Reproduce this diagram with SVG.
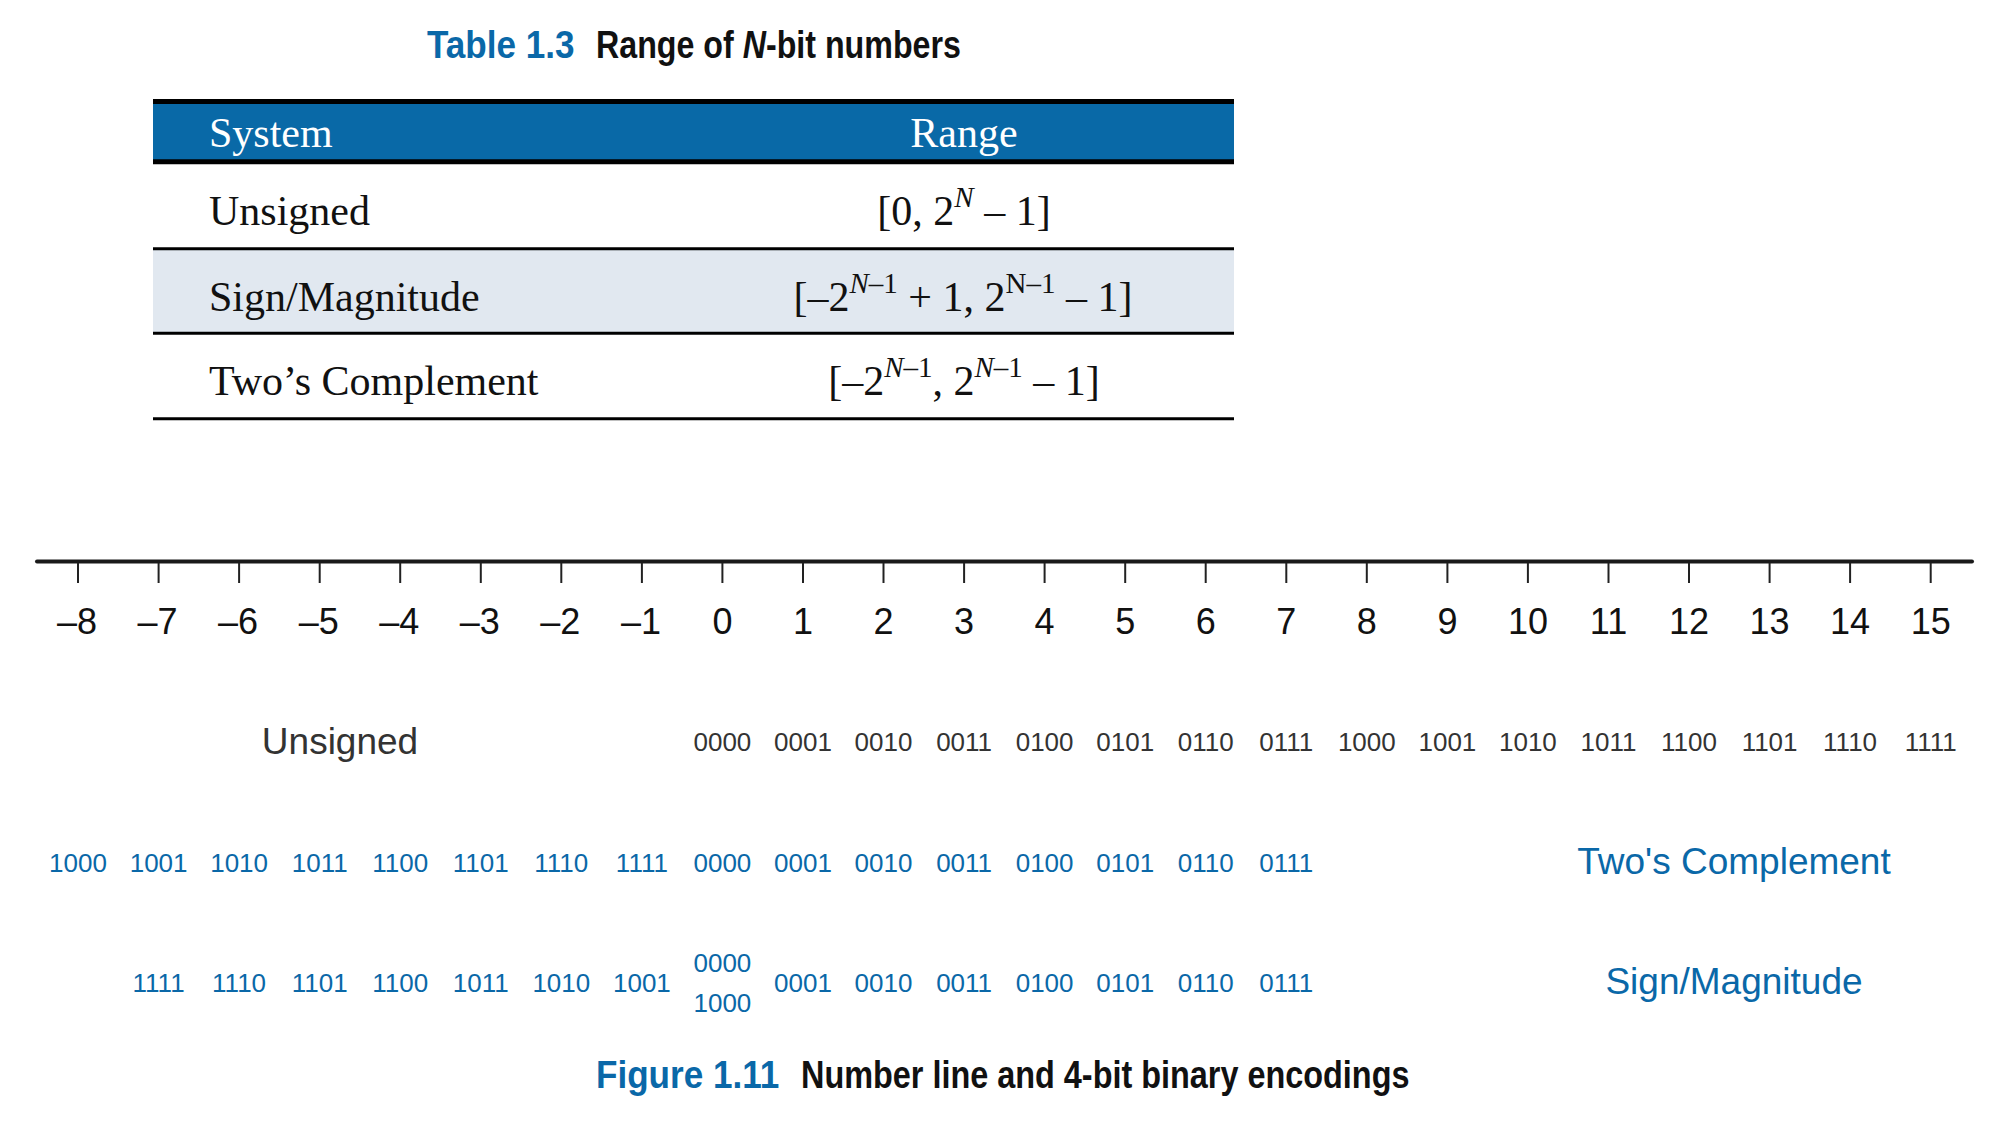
<svg xmlns="http://www.w3.org/2000/svg" width="2010" height="1126" viewBox="0 0 2010 1126">
<style>
.cap{font-family:"Liberation Sans",Arial,sans-serif;font-weight:bold;font-size:39px;fill:#111}
.blue{fill:#0A68A8}
.ser{font-family:"Liberation Serif","Times New Roman",serif;font-size:42px;fill:#111}
.sup{font-size:29px}
.hdr{fill:#fff}
.num{font-family:"Liberation Sans",Arial,sans-serif;font-size:36px;fill:#111;text-anchor:middle}
.code{font-family:"Liberation Sans",Arial,sans-serif;font-size:26px;text-anchor:middle}
.ug{fill:#333}
.lbl{font-family:"Liberation Sans",Arial,sans-serif;font-size:37px;text-anchor:middle}
.tick{stroke:#222;stroke-width:2}
.rule{stroke:#000;stroke-width:3}
.thick{stroke:#000;stroke-width:5}
</style>
<rect width="2010" height="1126" fill="#fff"/>

<g id="table-title">
<text class="cap blue" transform="translate(427,58) scale(0.9,1)">Table 1.3</text>
<text class="cap" transform="translate(596,58) scale(0.826,1)">Range of <tspan font-style="italic">N</tspan>-bit numbers</text>
</g>

<g id="table">
<rect x="153" y="101" width="1081" height="61" fill="#0969A7"/>
<line class="thick" x1="153" y1="101.5" x2="1234" y2="101.5"/>
<line class="thick" x1="153" y1="161.8" x2="1234" y2="161.8"/>
<text class="ser hdr" x="209" y="147">System</text>
<text class="ser hdr" x="964" y="147" text-anchor="middle">Range</text>
<rect x="153" y="250" width="1081" height="82" fill="#E1E8F0"/>
<line class="rule" x1="153" y1="248.7" x2="1234" y2="248.7"/>
<line class="rule" x1="153" y1="333.3" x2="1234" y2="333.3"/>
<line class="rule" x1="153" y1="418.7" x2="1234" y2="418.7"/>
<text class="ser" x="209" y="225">Unsigned</text>
<text class="ser" x="964" y="225" text-anchor="middle">[0, 2<tspan class="sup" font-style="italic" dy="-18">N</tspan><tspan dy="18"> – 1]</tspan></text>
<text class="ser" x="209" y="311">Sign/Magnitude</text>
<text class="ser" x="963" y="311" text-anchor="middle">[–2<tspan class="sup" dy="-18"><tspan font-style="italic">N</tspan>–1</tspan><tspan dy="18"> + 1, 2</tspan><tspan class="sup" dy="-18">N–1</tspan><tspan dy="18"> – 1]</tspan></text>
<text class="ser" x="209" y="395">Two’s Complement</text>
<text class="ser" x="964" y="395" text-anchor="middle">[–2<tspan class="sup" dy="-18"><tspan font-style="italic">N</tspan>–1</tspan><tspan dy="18">, 2</tspan><tspan class="sup" dy="-18"><tspan font-style="italic">N</tspan>–1</tspan><tspan dy="18"> – 1]</tspan></text>
</g>

<g id="number-line">
<line x1="37" y1="561.5" x2="1972" y2="561.5" stroke="#1a1a1a" stroke-width="4" stroke-linecap="round"/>
<g id="ticks">
<line class="tick" x1="78" y1="563" x2="78" y2="583"/>
<line class="tick" x1="158.6" y1="563" x2="158.6" y2="583"/>
<line class="tick" x1="239.1" y1="563" x2="239.1" y2="583"/>
<line class="tick" x1="319.7" y1="563" x2="319.7" y2="583"/>
<line class="tick" x1="400.2" y1="563" x2="400.2" y2="583"/>
<line class="tick" x1="480.8" y1="563" x2="480.8" y2="583"/>
<line class="tick" x1="561.3" y1="563" x2="561.3" y2="583"/>
<line class="tick" x1="641.9" y1="563" x2="641.9" y2="583"/>
<line class="tick" x1="722.4" y1="563" x2="722.4" y2="583"/>
<line class="tick" x1="803" y1="563" x2="803" y2="583"/>
<line class="tick" x1="883.5" y1="563" x2="883.5" y2="583"/>
<line class="tick" x1="964.1" y1="563" x2="964.1" y2="583"/>
<line class="tick" x1="1044.6" y1="563" x2="1044.6" y2="583"/>
<line class="tick" x1="1125.2" y1="563" x2="1125.2" y2="583"/>
<line class="tick" x1="1205.7" y1="563" x2="1205.7" y2="583"/>
<line class="tick" x1="1286.3" y1="563" x2="1286.3" y2="583"/>
<line class="tick" x1="1366.8" y1="563" x2="1366.8" y2="583"/>
<line class="tick" x1="1447.4" y1="563" x2="1447.4" y2="583"/>
<line class="tick" x1="1527.9" y1="563" x2="1527.9" y2="583"/>
<line class="tick" x1="1608.5" y1="563" x2="1608.5" y2="583"/>
<line class="tick" x1="1689" y1="563" x2="1689" y2="583"/>
<line class="tick" x1="1769.6" y1="563" x2="1769.6" y2="583"/>
<line class="tick" x1="1850.1" y1="563" x2="1850.1" y2="583"/>
<line class="tick" x1="1930.7" y1="563" x2="1930.7" y2="583"/>
</g>
<g id="numbers">
<text class="num" x="77" y="634">–8</text>
<text class="num" x="157.6" y="634">–7</text>
<text class="num" x="238.1" y="634">–6</text>
<text class="num" x="318.7" y="634">–5</text>
<text class="num" x="399.2" y="634">–4</text>
<text class="num" x="479.8" y="634">–3</text>
<text class="num" x="560.3" y="634">–2</text>
<text class="num" x="640.9" y="634">–1</text>
<text class="num" x="722.4" y="634">0</text>
<text class="num" x="803" y="634">1</text>
<text class="num" x="883.5" y="634">2</text>
<text class="num" x="964.1" y="634">3</text>
<text class="num" x="1044.6" y="634">4</text>
<text class="num" x="1125.2" y="634">5</text>
<text class="num" x="1205.7" y="634">6</text>
<text class="num" x="1286.3" y="634">7</text>
<text class="num" x="1366.8" y="634">8</text>
<text class="num" x="1447.4" y="634">9</text>
<text class="num" x="1527.9" y="634">10</text>
<text class="num" x="1608.5" y="634">11</text>
<text class="num" x="1689" y="634">12</text>
<text class="num" x="1769.6" y="634">13</text>
<text class="num" x="1850.1" y="634">14</text>
<text class="num" x="1930.7" y="634">15</text>
</g>
</g>

<g id="unsigned-row" class="ug">
<text class="lbl ug" x="340" y="754">Unsigned</text>
<text class="code" x="722.4" y="751">0000</text>
<text class="code" x="803" y="751">0001</text>
<text class="code" x="883.5" y="751">0010</text>
<text class="code" x="964.1" y="751">0011</text>
<text class="code" x="1044.6" y="751">0100</text>
<text class="code" x="1125.2" y="751">0101</text>
<text class="code" x="1205.7" y="751">0110</text>
<text class="code" x="1286.3" y="751">0111</text>
<text class="code" x="1366.8" y="751">1000</text>
<text class="code" x="1447.4" y="751">1001</text>
<text class="code" x="1527.9" y="751">1010</text>
<text class="code" x="1608.5" y="751">1011</text>
<text class="code" x="1689" y="751">1100</text>
<text class="code" x="1769.6" y="751">1101</text>
<text class="code" x="1850.1" y="751">1110</text>
<text class="code" x="1930.7" y="751">1111</text>
</g>

<g id="twos-complement-row" class="blue">
<text class="code" x="78" y="872">1000</text>
<text class="code" x="158.6" y="872">1001</text>
<text class="code" x="239.1" y="872">1010</text>
<text class="code" x="319.7" y="872">1011</text>
<text class="code" x="400.2" y="872">1100</text>
<text class="code" x="480.8" y="872">1101</text>
<text class="code" x="561.3" y="872">1110</text>
<text class="code" x="641.9" y="872">1111</text>
<text class="code" x="722.4" y="872">0000</text>
<text class="code" x="803" y="872">0001</text>
<text class="code" x="883.5" y="872">0010</text>
<text class="code" x="964.1" y="872">0011</text>
<text class="code" x="1044.6" y="872">0100</text>
<text class="code" x="1125.2" y="872">0101</text>
<text class="code" x="1205.7" y="872">0110</text>
<text class="code" x="1286.3" y="872">0111</text>
<text class="lbl" x="1734" y="874">Two's Complement</text>
</g>

<g id="sign-magnitude-row" class="blue">
<text class="code" x="158.6" y="992">1111</text>
<text class="code" x="239.1" y="992">1110</text>
<text class="code" x="319.7" y="992">1101</text>
<text class="code" x="400.2" y="992">1100</text>
<text class="code" x="480.8" y="992">1011</text>
<text class="code" x="561.3" y="992">1010</text>
<text class="code" x="641.9" y="992">1001</text>
<text class="code" x="722.4" y="972">0000</text>
<text class="code" x="722.4" y="1012">1000</text>
<text class="code" x="803" y="992">0001</text>
<text class="code" x="883.5" y="992">0010</text>
<text class="code" x="964.1" y="992">0011</text>
<text class="code" x="1044.6" y="992">0100</text>
<text class="code" x="1125.2" y="992">0101</text>
<text class="code" x="1205.7" y="992">0110</text>
<text class="code" x="1286.3" y="992">0111</text>
<text class="lbl" x="1734" y="994">Sign/Magnitude</text>
</g>

<g id="figure-caption">
<text class="cap blue" transform="translate(596,1088) scale(0.9,1)">Figure 1.11</text>
<text class="cap" transform="translate(801,1088) scale(0.831,1)">Number line and 4-bit binary encodings</text>
</g>
</svg>
